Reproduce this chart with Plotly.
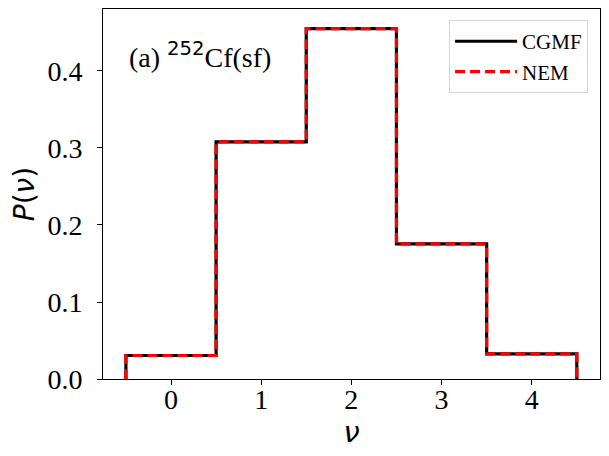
import plotly.graph_objects as go

nu = [0, 1, 2, 3, 4]
p_cgmf = [0.0305, 0.308, 0.455, 0.1755, 0.0325]
p_nem = [0.0305, 0.308, 0.455, 0.1755, 0.0325]
x_ticks = [0, 1, 2, 3, 4]
y_ticks = [0.0, 0.1, 0.2, 0.3, 0.4]


def step(vals):
    xs = [nu[0] - 0.5]
    ys = [0]
    for n, v in zip(nu, vals):
        xs += [n - 0.5, n + 0.5]
        ys += [v, v]
    xs.append(nu[-1] + 0.5)
    ys.append(0)
    return xs, ys


fig = go.Figure()
xc, yc = step(p_cgmf)
fig.add_trace(go.Scatter(x=xc, y=yc, mode="lines", name="CGMF",
                         line=dict(color="black", width=3.2)))
xn, yn = step(p_nem)
fig.add_trace(go.Scatter(x=xn, y=yn, mode="lines", name="NEM",
                         line=dict(color="red", width=3.2, dash="10px,5px")))

OFF = 8  # page body margin
serif = "Liberation Serif"
fig.update_layout(
    width=609 - OFF, height=456 - OFF,
    margin=dict(l=103 - OFF, r=9, t=9 - OFF, b=77, autoexpand=False),
    plot_bgcolor="white", paper_bgcolor="white",
    font=dict(family=serif, color="black"),
    showlegend=True,
    legend=dict(x=0.976, y=0.970, xanchor="right", yanchor="top",
                bordercolor="#d6d6d6", borderwidth=1,
                font=dict(family=serif, size=21),
                itemwidth=62, tracegroupgap=2),
    xaxis=dict(range=[-0.754, 4.757], tickvals=x_ticks,
               ticktext=[str(t) for t in x_ticks],
               showgrid=False, zeroline=False,
               showline=True, mirror=True, linecolor="black", linewidth=1,
               ticks="outside", ticklen=5, tickcolor="black",
               ticklabelstandoff=-10,
               tickfont=dict(family=serif, size=28),
               title=dict(text="<i>ν</i>", font=dict(family="DejaVu Sans", size=29),
                          standoff=7)),
    yaxis=dict(range=[0, 0.4805], tickvals=y_ticks,
               ticktext=["%.1f" % t for t in y_ticks],
               showgrid=False, zeroline=False,
               showline=True, mirror=True, linecolor="black", linewidth=1,
               ticks="outside", ticklen=5, tickcolor="black",
               ticklabelstandoff=9,
               tickfont=dict(family=serif, size=28),
               title=dict(text="<i>P</i>(<i>ν</i>)", font=dict(family="DejaVu Sans", size=28),
                          standoff=6)),
)
fig.add_annotation(
    x=0.048, y=0.875, xref="paper", yref="paper", xanchor="left", yanchor="middle",
    text="(a) <span style='font-family:DejaVu Sans'><sup>252</sup></span>Cf(sf)",
    showarrow=False, font=dict(family=serif, size=28, color="black"))

fig.write_html("out.html")
